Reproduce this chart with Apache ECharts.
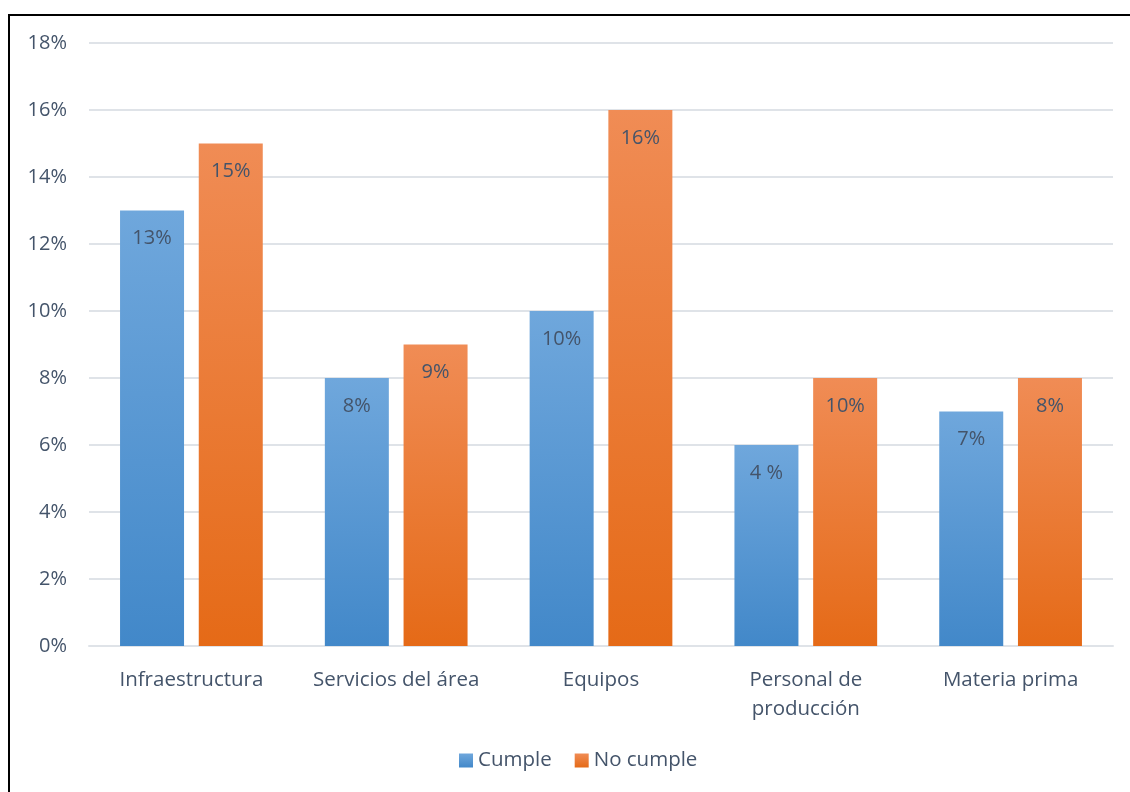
<!DOCTYPE html>
<html>
<head>
<meta charset="utf-8">
<script src="https://cdn.jsdelivr.net/npm/echarts@6/dist/echarts.min.js"></script>
<style>
  html, body { margin: 0; padding: 0; background: #fff; }
  #chart { width: 1130px; height: 792px; }
</style>
</head>
<body>
<div id="chart"></div>
<script>
/* datos del gráfico */
const categorias = ['Infraestructura', 'Servicios del área', 'Equipos', 'Personal de\nproducción', 'Materia prima'];
const cumple = [13, 8, 10, 6, 7];
const noCumple = [15, 9, 16, 8, 8];
/* etiquetas tal como aparecen en las barras */
const etiquetasCumple = ['13%', '8%', '10%', '4 %', '7%'];
const etiquetasNoCumple = ['15%', '9%', '16%', '10%', '8%'];
const ticksY = [0, 2, 4, 6, 8, 10, 12, 14, 16, 18];

const textColor = '#44546a';
const fontFam = '"Open Sans", "Noto Sans", sans-serif';

function gradiente (top, bottom) {
    return new echarts.graphic.LinearGradient(0, 0, 0, 1, [
        { offset: 0, color: top },
        { offset: 1, color: bottom }
    ]);
}

const azul = gradiente('#6fa7dc', '#4288c9');
const naranja = gradiente('#f08c55', '#e56a17');

function etiqueta (textos) {
    return {
        show: true,
        position: 'insideTop',
        distance: 18,
        color: textColor,
        fontFamily: fontFam,
        fontSize: 20,
        formatter: p => textos[p.dataIndex]
    };
}

const myChart = echarts.init(document.getElementById('chart'));
myChart.setOption({
    animation: false,
    textStyle: { fontFamily: fontFam },
    graphic: [{
        type: 'rect',
        shape: { x: 9, y: 15, width: 1200, height: 900 },
        style: { fill: 'none', stroke: '#000', lineWidth: 2 },
        silent: true
    }],
    grid: { left: 89, right: 17, top: 43, bottom: 146 },
    legend: {
        bottom: 16,
        left: 454,
        itemWidth: 14,
        itemHeight: 14,
        itemGap: 23,
        icon: 'rect',
        textStyle: { color: textColor, fontSize: 20.5, fontFamily: fontFam },
        data: ['Cumple', 'No cumple']
    },
    xAxis: {
        type: 'category',
        data: categorias,
        axisLine: { lineStyle: { color: '#dfe3e8', width: 2 } },
        axisTick: { show: false },
        axisLabel: { interval: 0, color: textColor, fontSize: 20.5, margin: 20, lineHeight: 29, fontFamily: fontFam }
    },
    yAxis: {
        type: 'value',
        min: ticksY[0],
        max: ticksY[ticksY.length - 1],
        interval: 2,
        axisLine: { show: false },
        axisTick: { show: false },
        splitLine: { lineStyle: { color: '#dfe3e8', width: 2 } },
        axisLabel: { color: textColor, fontSize: 20, margin: 22, formatter: '{value}%', fontFamily: fontFam }
    },
    series: [
        {
            name: 'Cumple',
            type: 'bar',
            data: cumple,
            barWidth: 64,
            barGap: '23%',
            itemStyle: { color: azul },
            label: etiqueta(etiquetasCumple)
        },
        {
            name: 'No cumple',
            type: 'bar',
            data: noCumple,
            barWidth: 64,
            itemStyle: { color: naranja },
            label: etiqueta(etiquetasNoCumple)
        }
    ]
});
</script>
</body>
</html>
